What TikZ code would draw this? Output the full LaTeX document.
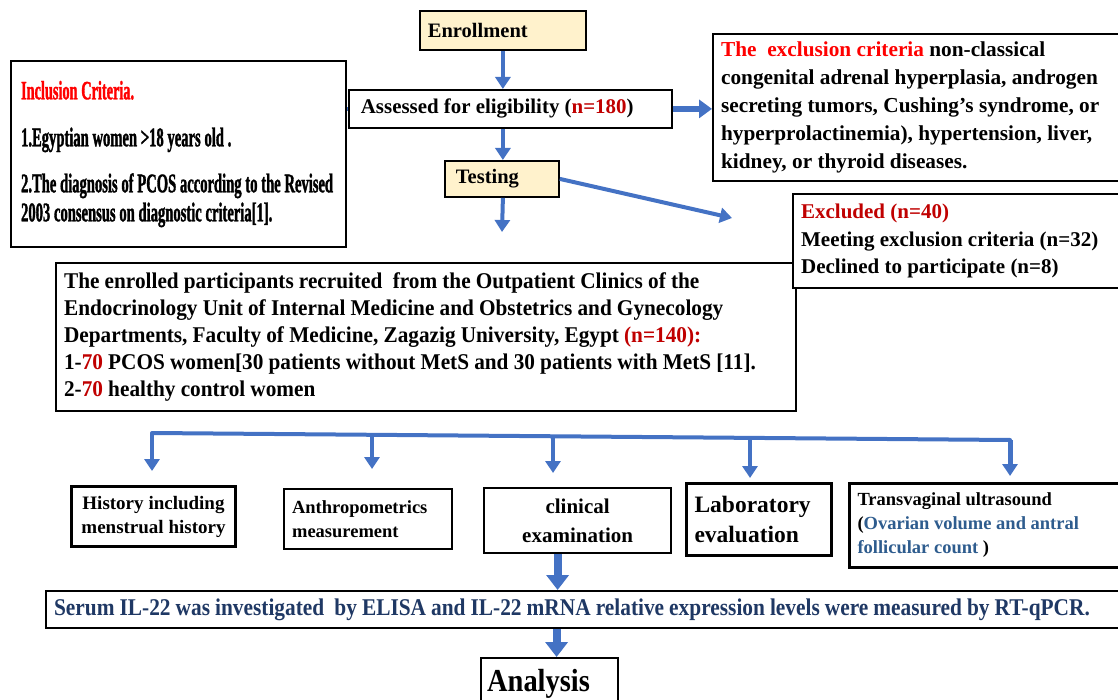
\documentclass[tikz,border=0pt]{standalone}
\usepackage{fontspec}
\setmainfont{Liberation Serif}
\newfontfamily\condA{Liberation Serif}[UprightFont=* Bold, FakeStretch=0.54, FakeBold=1.2]
\newfontfamily\condB{Liberation Serif}[UprightFont=* Bold, FakeStretch=0.945]
\newfontfamily\condC{Liberation Serif}[UprightFont=* Bold, FakeStretch=0.89]
\newcommand\wsp[1]{\spaceskip=#1em plus 0.06em minus 0.03em\xspaceskip=\spaceskip\relax}
\newcommand\inclfont{\condA\fontsize{27}{28}\selectfont}
\newcommand\inclhead{\condA\fontsize{26.5}{28}\selectfont\wsp{0.14}}
\newcommand\enrolfont{\condB\fontsize{22.5}{27}\selectfont}
\newcommand\serumfont{\condC\fontsize{24}{26}\selectfont}
\newcommand\anafont{\condC\fontsize{32}{34}\selectfont}
\usetikzlibrary{arrows.meta}
\definecolor{arrowblue}{HTML}{4472C4}
\definecolor{paleyellow}{HTML}{FFF2CC}
\definecolor{brightred}{HTML}{FF0000}
\definecolor{darkred}{HTML}{C00000}
\definecolor{navytext}{HTML}{1F3864}
\definecolor{ovblue}{HTML}{2E5C8E}
\tikzset{
 box/.style={draw=black, line width=2.2pt, fill=white, anchor=north west, inner sep=0pt, inner xsep=8pt},
 flow/.style={draw=arrowblue, line width=4pt, -{Triangle[length=12pt,width=15pt]}},
 midflow/.style={draw=arrowblue, line width=6pt, -{Triangle[length=13pt,width=18pt]}},
 bigflow/.style={draw=arrowblue, line width=8pt, -{Triangle[length=15pt,width=22pt]}},
 link/.style={draw=arrowblue, line width=4pt},
}
\begin{document}
\begin{tikzpicture}[x=1pt,y=-1pt]
\useasboundingbox (0,0) rectangle (1118,700);
% top column
\node[box, fill=paleyellow, line width=1.8pt, minimum width=166pt, minimum height=39pt, text width=150pt, align=left, font=\bfseries\fontsize{20.5}{24}\selectfont] (enroll) at (419,10) {Enrollment};
\node[box, inner xsep=10pt, minimum width=335pt, minimum height=186pt, text width=315pt, align=left, font=\inclfont] (incl) at (10,60)
 {\wsp{0.14}{\inclhead\color{brightred}Inclusion Criteria.}\\[19pt]
  1.Egyptian women >18 years old .\\[18pt]
  2.The diagnosis of PCOS according to the Revised\\[1pt]
  2003 consensus on diagnostic criteria[1].};
\node[box, line width=1.8pt, minimum width=323pt, minimum height=38pt, text width=307pt, align=left, font=\bfseries\fontsize{20.9}{24}\selectfont] (assess) at (348,89)
 {\wsp{0.25}\hspace{4pt}Assessed for eligibility (\textcolor{darkred}{n=180})};
\node[box, minimum width=420pt, minimum height=147pt, text width=404pt, align=left, font=\bfseries\fontsize{21.3}{28}\selectfont] (excl) at (712,33)
 {\wsp{0.25}\textcolor{brightred}{The\ \ exclusion criteria} non-classical\\
  congenital adrenal hyperplasia, androgen\\
  secreting tumors, Cushing’s syndrome, or\\
  hyperprolactinemia), hypertension, liver,\\
  kidney, or thyroid diseases.};
\node[box, fill=paleyellow, line width=1.8pt, minimum width=114pt, minimum height=36pt, text width=98pt, align=left, font=\bfseries\fontsize{20.5}{24}\selectfont] (testing) at (444,160) {\hspace{3pt}Testing};
\node[box, minimum width=740pt, minimum height=148pt, text width=724pt, align=left, font=\enrolfont] (enrolled) at (55,262)
 {\wsp{0.23}The enrolled participants recruited\ \ from the Outpatient Clinics of the\\
  Endocrinology Unit of Internal Medicine and Obstetrics and Gynecology\\
  Departments, Faculty of Medicine, Zagazig University, Egypt \textcolor{darkred}{(n=140):}\\
  1-\textcolor{darkred}{70} PCOS women[30 patients without MetS and 30 patients with MetS [11].\\
  2-\textcolor{darkred}{70} healthy control women};
\node[box, minimum width=335pt, minimum height=94pt, text width=319pt, align=left, font=\bfseries\fontsize{21}{27.5}\selectfont] (excluded) at (792,193)
 {\wsp{0.25}\textcolor{darkred}{Excluded (n=40)}\\
  Meeting exclusion criteria (n=32)\\
  Declined to participate (n=8)};
% assessment boxes
\node[box, line width=3pt, minimum width=164pt, minimum height=60pt, text width=148pt, align=center, font=\bfseries\fontsize{19}{24}\selectfont] (hist) at (70,485)
 {\wsp{0.25}History including\\menstrual history};
\node[box, minimum width=168pt, minimum height=60pt, text width=152pt, align=left, font=\bfseries\fontsize{18.5}{24}\selectfont] (anthro) at (283,488)
 {Anthropometrics\\measurement};
\node[box, minimum width=187pt, minimum height=65pt, text width=171pt, align=center, font=\bfseries\fontsize{21}{29}\selectfont] (clin) at (483,487)
 {clinical\\examination};
\node[box, line width=3pt, minimum width=145pt, minimum height=72pt, text width=129pt, align=left, font=\bfseries\fontsize{23.5}{30}\selectfont] (lab) at (685,482)
 {Laboratory\\evaluation};
\node[box, line width=3pt, minimum width=275pt, minimum height=84pt, text width=259pt, align=left, font=\bfseries\fontsize{18.5}{24}\selectfont] (trans) at (848,482)
 {\wsp{0.25}Transvaginal ultrasound\\
  (\textcolor{ovblue}{Ovarian volume and antral}\\
  \textcolor{ovblue}{follicular count} )};
\node[box, minimum width=1078pt, minimum height=37pt, text width=1062pt, align=left, font=\serumfont, text=navytext] (serum) at (45,590)
 {\wsp{0.21}Serum IL-22 was investigated\ \ by ELISA and IL-22 mRNA relative expression levels were measured by RT-qPCR.};
\node[box, inner xsep=6pt, minimum width=137pt, minimum height=52pt, text width=125pt, align=left, font=\anafont] (analysis) at (480,657)
 {Analysis};
% free ends
\coordinate (testout) at (502,232);
\coordinate (exclend) at (732,218);
\coordinate (barL) at (152,433);
\coordinate (barR) at (1010,440);
\coordinate (b1) at (152,433);
\coordinate (b2) at (372,434);
\coordinate (b3) at (553,435);
\coordinate (b4) at (750,437);
\coordinate (b5) at (1010,440);
\coordinate (e1) at (152,471);
\coordinate (e2) at (372,469);
\coordinate (e3) at (553,473);
\coordinate (e4) at (750,478);
\coordinate (e5) at (1010,476);
% connectors
\draw[flow] (enroll.south) -- (enroll.south |- assess.north);
\draw[flow] (enroll.south |- assess.south) -- (enroll.south |- testing.north);
\draw[flow] (enroll.south |- testing.south) -- (testout);
\draw[midflow] (assess.east) -- (excl.west |- assess.east);
\draw[flow] (testing.east) -- (exclend);
\draw[link] (incl.east |- assess.west) -- (assess.west);
\draw[link, line cap=round] (barL) -- (barR);
\draw[flow] (b1) -- (e1);
\draw[flow] (b2) -- (e2);
\draw[flow] (b3) -- (e3);
\draw[flow] (b4) -- (e4);
\draw[flow, line width=5pt] (b5) -- (e5);
\draw[bigflow] ([xshift=-20pt]clin.south) -- ([xshift=-20pt]clin.south |- serum.north);
\draw[bigflow] ([xshift=7pt]analysis.north |- serum.south) -- ([xshift=7pt]analysis.north);
\end{tikzpicture}
\end{document}
